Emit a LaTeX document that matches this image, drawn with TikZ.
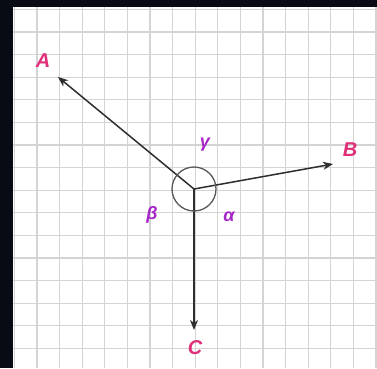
\documentclass[tikz,border=0pt]{standalone}
\usepackage{fontspec}
\setmainfont{Liberation Sans}
\usetikzlibrary{arrows.meta}
\definecolor{bgdark}{HTML}{080B14}
\definecolor{gridc}{HTML}{D4D4D4}
\definecolor{vecc}{HTML}{2E2E2E}
\definecolor{lblc}{HTML}{E0307A}
\definecolor{grkc}{HTML}{A624C8}
\begin{document}
\begin{tikzpicture}[x=1pt,y=-1pt,
  vec/.style={draw=vecc,line width=1.5pt,-{Stealth[length=10pt,width=8pt,inset=3pt]}},
  ptlbl/.style={text=lblc,font=\bfseries\itshape\fontsize{20}{20}\selectfont,inner sep=0pt},
  anglbl/.style={text=grkc,font=\bfseries\itshape\fontsize{18}{18}\selectfont,inner sep=0pt}]
\useasboundingbox (0,0) rectangle (377,368);
\fill[bgdark] (0,0) rectangle (377,368);
\fill[white] (13,7) rectangle (377,368);
\begin{scope}
\clip (13,7) rectangle (377,368);
\foreach \i in {-1,...,15} {
  \draw[gridc,line width=1.3pt] ({37+22.6*\i},7) -- ({37+22.6*\i},368);
  \draw[gridc,line width=1.3pt] (13,{32+22.6*\i}) -- (377,{32+22.6*\i});
}
\end{scope}
\coordinate (O) at (194,189);
\coordinate (A) at (58,77);
\coordinate (B) at (333,164);
\coordinate (C) at (194,330);
\draw[vec] (O) -- (A);
\draw[vec] (O) -- (B);
\draw[vec] (O) -- (C);
\draw[draw=vecc!80,line width=1.3pt] (O) circle (22);
\node[ptlbl] (la) at (43,61) {A};
\node[ptlbl] (lb) at (350,150) {B};
\node[ptlbl] (lc) at (195,348) {C};
\node[anglbl] (lg) at (205,145) {γ};
\node[anglbl] (lbt) at (152,215) {β};
\node[anglbl] (lal) at (229,217) {α};
\end{tikzpicture}
\end{document}
